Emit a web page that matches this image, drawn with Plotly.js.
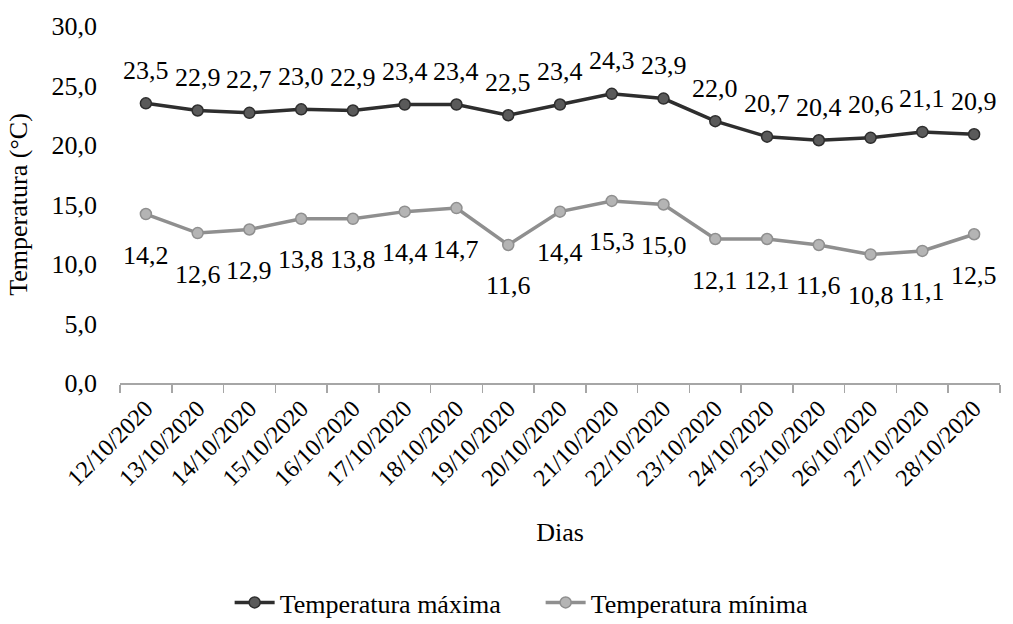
<!DOCTYPE html>
<html>
<head>
<meta charset="utf-8">
<script src="https://cdn.plot.ly/plotly-3.0.1.min.js"></script>
<style>
  html, body { margin: 0; padding: 0; background: #ffffff; }
  #chart { width: 1013px; height: 624px; }
</style>
</head>
<body>
<div id="chart"></div>
<script>
// Daily air temperature, 12/10/2020 – 28/10/2020
const dias = [
  "12/10/2020", "13/10/2020", "14/10/2020", "15/10/2020", "16/10/2020",
  "17/10/2020", "18/10/2020", "19/10/2020", "20/10/2020", "21/10/2020",
  "22/10/2020", "23/10/2020", "24/10/2020", "25/10/2020", "26/10/2020",
  "27/10/2020", "28/10/2020"
];
const tempMaxima = [23.5, 22.9, 22.7, 23.0, 22.9, 23.4, 23.4, 22.5, 23.4, 24.3, 23.9, 22.0, 20.7, 20.4, 20.6, 21.1, 20.9];
const tempMinima = [14.2, 12.6, 12.9, 13.8, 13.8, 14.4, 14.7, 11.6, 14.4, 15.3, 15.0, 12.1, 12.1, 11.6, 10.8, 11.1, 12.5];
const yTicks = [0, 5, 10, 15, 20, 25, 30];

const serif = "Liberation Serif";
const fmt = v => v.toFixed(1).replace(".", ",");

const traces = [
  {
    name: "Temperatura máxima",
    x: dias,
    y: tempMaxima,
    type: "scatter",
    mode: "lines+markers",
    line: { color: "#2e2e2e", width: 3.5 },
    marker: { size: 11, color: "#5a5a5a", line: { color: "#2e2e2e", width: 1.5 } },
    cliponaxis: false
  },
  {
    name: "Temperatura mínima",
    x: dias,
    y: tempMinima,
    type: "scatter",
    mode: "lines+markers",
    line: { color: "#8f8f8f", width: 3.5 },
    marker: { size: 11, color: "#b4b4b4", line: { color: "#8f8f8f", width: 1.5 } },
    cliponaxis: false
  }
];

// value labels: maxima above each point, minima below
const labelFont = { family: serif, size: 26, color: "#000000" };
const annotations = [];
dias.forEach((d, i) => {
  annotations.push({
    x: d, y: tempMaxima[i], xref: "x", yref: "y",
    text: fmt(tempMaxima[i]), showarrow: false,
    yshift: 33, font: labelFont
  });
  annotations.push({
    x: d, y: tempMinima[i], xref: "x", yref: "y",
    text: fmt(tempMinima[i]), showarrow: false,
    yshift: -41, font: labelFont
  });
});

const layout = {
  width: 1013,
  height: 624,
  paper_bgcolor: "#ffffff",
  plot_bgcolor: "#ffffff",
  separators: ",.",
  font: { family: serif, size: 26, color: "#000000" },
  margin: { l: 120, r: 13, t: 26, b: 241, autoexpand: false },
  showlegend: true,
  legend: {
    orientation: "h",
    x: 0.478, xanchor: "center",
    y: -0.615, yanchor: "middle",
    font: { family: serif, size: 26, color: "#000000" },
    itemwidth: 40,
    entrywidth: 256,
    entrywidthmode: "pixels",
    traceorder: "normal"
  },
  annotations: annotations,
  xaxis: {
    type: "category",
    automargin: false,
    range: [-0.5, dias.length - 0.5],
    tickson: "boundaries",
    ticks: "outside",
    ticklen: 8,
    tickcolor: "#a6a6a6",
    tickwidth: 1.5,
    showline: true,
    linecolor: "#a6a6a6",
    linewidth: 2,
    showgrid: false,
    zeroline: false,
    tickangle: -45,
    tickfont: { family: serif, size: 24, color: "#000000" },
    title: { text: "Dias", font: { family: serif, size: 26, color: "#000000" }, standoff: 33 }
  },
  yaxis: {
    automargin: false,
    range: [0, 30],
    tickvals: yTicks,
    tickformat: ".1f",
    showgrid: false,
    zeroline: false,
    showline: false,
    ticks: "",
    ticklabelstandoff: 22,
    tickfont: { family: serif, size: 26, color: "#000000" },
    title: { text: "Temperatura (°C)", font: { family: serif, size: 26, color: "#000000" }, standoff: 16 }
  }
};

Plotly.newPlot("chart", traces, layout, { displayModeBar: false, staticPlot: true });
</script>
</body>
</html>
